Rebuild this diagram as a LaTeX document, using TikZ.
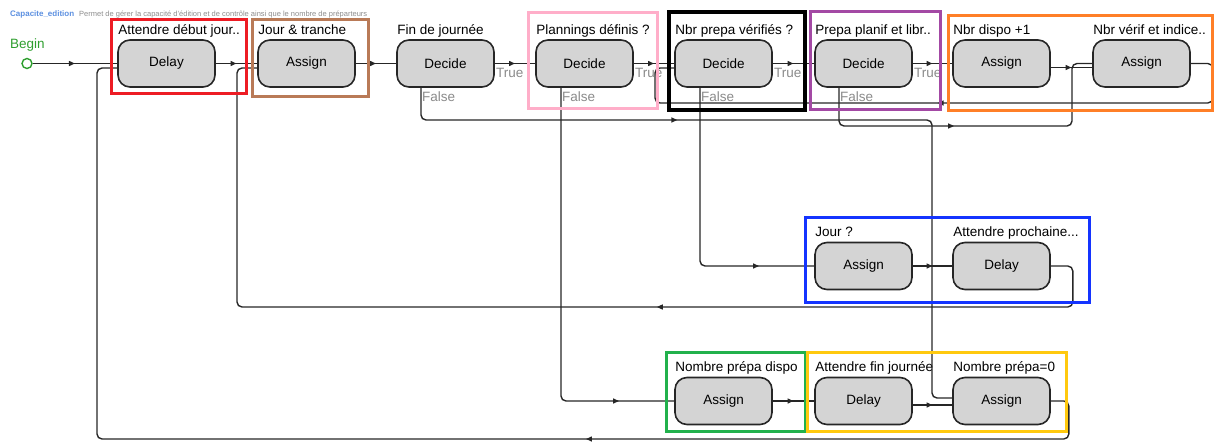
\documentclass[tikz,border=0pt]{standalone}
\usepackage{fontspec}
\setmainfont{Liberation Sans}
\usetikzlibrary{arrows.meta,decorations.markings}
\definecolor{blockgray}{HTML}{D4D4D4}
\definecolor{edgegray}{HTML}{262626}
\definecolor{tfgray}{HTML}{8A8A8A}
\definecolor{begingreen}{HTML}{2E9E2E}
\definecolor{titleblue}{HTML}{5B8FE0}
\definecolor{descgray}{HTML}{8C8C8C}
\definecolor{boxred}{HTML}{ED1C24}
\definecolor{boxbrown}{HTML}{B97A57}
\definecolor{boxpink}{HTML}{FFAEC9}
\definecolor{boxpurple}{HTML}{A349A4}
\definecolor{boxorange}{HTML}{FF7F27}
\definecolor{boxblue}{HTML}{1434FF}
\definecolor{boxgreen}{HTML}{22B14C}
\definecolor{boxyellow}{HTML}{FFC90E}

\begin{document}
\begin{tikzpicture}[x=1pt, y=-1pt,
    block/.style={draw=edgegray, fill=blockgray, line width=1.6pt, rounded corners=12pt, minimum width=97pt, minimum height=47pt, inner sep=0pt, font=\fontsize{13.5}{16}\selectfont},
    lbl/.style={anchor=base west, inner sep=0pt, font=\fontsize{13.5}{16}\selectfont},
    tf/.style={anchor=west, inner sep=1pt, text=tfgray, font=\fontsize{13.5}{16}\selectfont},
    link/.style={color=edgegray, line width=1.4pt, rounded corners=5pt, postaction={decorate}, decoration={markings, mark=at position #1 with {\arrow{Triangle[length=6pt,width=5pt]}}}},
    link/.default=0.5,
    hl/.style={draw=#1, line width=3pt}
]
\useasboundingbox (0,0) rectangle (1214,442);
\node[anchor=base west, inner sep=0pt, text=titleblue, font=\fontsize{8}{9}\selectfont\bfseries] (ttl) at (10,16) {Capacite\_edition};
\node[anchor=base west, inner sep=0pt, text=descgray, font=\fontsize{7.5}{9}\selectfont] (desc) at (79,16) {Permet de gérer la capacité d'édition et de contrôle ainsi que le nombre de préparteurs};
\node[anchor=base west, inner sep=0pt, text=begingreen, font=\fontsize{13.5}{16}\selectfont] (begl) at (10,48) {Begin};
\node[circle, draw=begingreen, line width=1.4pt, minimum size=10pt, inner sep=0pt] (beg) at (27,63.5) {};

\node[block] (d1) at (166.5,63.5) {Delay};
\node[block] (a1) at (306.5,63.5) {Assign};
\node[block] (dec1) at (445.5,63.5) {Decide};
\node[block] (dec2) at (584.5,63.5) {Decide};
\node[block] (dec3) at (723.5,63.5) {Decide};
\node[block] (dec4) at (863.5,63.5) {Decide};
\node[block] (a2) at (1001.5,63.5) {Assign};
\node[block] (a3) at (1141.5,63.5) {Assign};
\node[block] (jourq) at (863.5,266) {Assign};
\node[block] (d2) at (1001.5,266) {Delay};
\node[block] (nbd) at (723.5,401) {Assign};
\node[block] (d3) at (863.5,401) {Delay};
\node[block] (nb0) at (1001.5,401) {Assign};

\node[lbl] (d1l) at ([xshift=1pt,yshift=5pt]d1.north west) {Attendre début jour..};
\node[lbl] (a1l) at ([xshift=1pt,yshift=5pt]a1.north west) {Jour \& tranche};
\node[lbl] (dec1l) at ([xshift=1pt,yshift=5pt]dec1.north west) {Fin de journée};
\node[lbl] (dec2l) at ([xshift=1pt,yshift=5pt]dec2.north west) {Plannings définis ?};
\node[lbl] (dec3l) at ([xshift=1pt,yshift=5pt]dec3.north west) {Nbr prepa vérifiés ?};
\node[lbl] (dec4l) at ([xshift=1pt,yshift=5pt]dec4.north west) {Prepa planif et libr..};
\node[lbl] (a2l) at ([xshift=1pt,yshift=5pt]a2.north west) {Nbr dispo +1};
\node[lbl] (a3l) at ([xshift=1pt,yshift=5pt]a3.north west) {Nbr vérif et indice..};
\node[lbl] (jourql) at ([xshift=1pt,yshift=5pt]jourq.north west) {Jour ?};
\node[lbl] (d2l) at ([xshift=1pt,yshift=5pt]d2.north west) {Attendre prochaine...};
\node[lbl] (nbdl) at ([xshift=1pt,yshift=5pt]nbd.north west) {Nombre prépa dispo};
\node[lbl] (d3l) at ([xshift=1pt,yshift=5pt]d3.north west) {Attendre fin journée};
\node[lbl] (nb0l) at ([xshift=1pt,yshift=5pt]nb0.north west) {Nombre prépa=0};

\node[tf] (t1) at ([yshift=-9.5pt]dec1.east) {True};
\node[tf] (t2) at ([yshift=-9.5pt]dec2.east) {True};
\node[tf] (t3) at ([yshift=-9.5pt]dec3.east) {True};
\node[tf] (t4) at ([yshift=-9.5pt]dec4.east) {True};
\node[tf] (f1) at ([xshift=-24.5pt,yshift=-9pt]dec1.south) {False};
\node[tf] (f2) at ([xshift=-23.5pt,yshift=-9pt]dec2.south) {False};
\node[tf] (f3) at ([xshift=-23.5pt,yshift=-9pt]dec3.south) {False};
\node[tf] (f4) at ([xshift=-24.5pt,yshift=-9pt]dec4.south) {False};

\draw[link] (beg) -- (d1);
\draw[link] (d1) -- (a1);
\draw[link] (a1) -- (dec1);
\draw[link] (dec1) -- (dec2);
\draw[link] (dec2) -- (dec3);
\draw[link] (dec3) -- (dec4);
\draw[link] (dec4) -- (a2);
\draw[link] ([yshift=-4pt]a2.east) -- ([yshift=-4pt]a3.west);
\draw[link] (a3.east) -- ++(22,0) |- (655,103) |- ([yshift=-4.5pt]dec3.west);
\draw[link=0.343] ([xshift=-24.5pt]dec1.south) |- (932,120) |- ([yshift=3pt]nb0.west);
\draw[link=0.87] ([xshift=-23.5pt]dec2.south) |- (nbd.west);
\draw[link=0.81] ([xshift=-23.5pt]dec3.south) |- (jourq.west);
\draw[link=0.435] ([xshift=-24.5pt]dec4.south) |- (1072,126) |- (a3.west);
\draw[link] (jourq) -- (d2);
\draw[link=0.413] (d2.east) -- ++(22,0) |- (237,307) |- ([yshift=-4.5pt]a1.west);
\draw[link] (nbd) -- (d3);
\draw[link] ([yshift=-4pt]d3.east) -- ([yshift=-4pt]nb0.west);
\draw[link=0.379] (nb0.east) -- ++(18,0) |- (97,439) |- ([yshift=-4.5pt]d1.west);

\draw[hl=boxred] (111,19) rectangle (246,93);
\draw[hl=boxbrown] (252,19) rectangle (368,96);
\draw[hl=boxpink] (528,12) rectangle (657,108);
\draw[hl=black, line width=4pt] (669,12) rectangle (805,110);
\draw[hl=boxpurple] (810,11) rectangle (940,109);
\draw[hl=boxorange] (948,15) rectangle (1212,110);
\draw[hl=boxblue] (805,217) rectangle (1089,302);
\draw[hl=boxgreen] (666,352) rectangle (805,431);
\draw[hl=boxyellow] (807,352) rectangle (1066,431);
\end{tikzpicture}
\end{document}
